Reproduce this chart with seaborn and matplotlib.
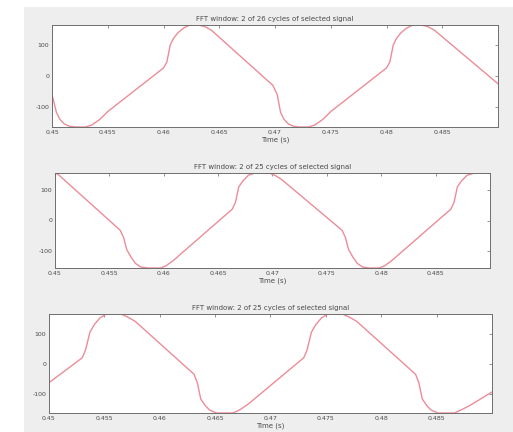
import matplotlib
matplotlib.use("Agg")
import matplotlib.pyplot as plt
from matplotlib.patches import Rectangle
import seaborn as sns
import pandas as pd

# ---- data ----
titles = [
    "FFT window: 2 of 26 cycles of selected signal",
    "FFT window: 2 of 25 cycles of selected signal",
    "FFT window: 2 of 25 cycles of selected signal",
]
xlabel = "Time (s)"
xticks = [0.45, 0.455, 0.46, 0.465, 0.47, 0.475, 0.48, 0.485]
xtick_labels = ["0.45", "0.455", "0.46", "0.465", "0.47", "0.475", "0.48", "0.485"]
yticks = [-100, 0, 100]
ytick_labels = ["-100", "0", "100"]

t1 = [0.4500, 0.4504, 0.4507, 0.4511, 0.4516, 0.4522, 0.4530, 0.4536, 0.4543, 0.4550,
      0.4600, 0.4603, 0.4606, 0.4609, 0.4613, 0.4618, 0.4623, 0.4631, 0.4637, 0.4643,
      0.4698, 0.4702, 0.4705, 0.4708, 0.4712, 0.4717, 0.4722, 0.4730, 0.4736, 0.4743,
      0.4750, 0.4800, 0.4803, 0.4806, 0.4809, 0.4813, 0.4818, 0.4823, 0.4831, 0.4837,
      0.4843, 0.4900]
v1 = [-60, -118, -140, -155, -163, -165, -165, -158, -140, -115,
      26, 45, 100, 122, 140, 155, 164, 165, 160, 148,
      -30, -60, -118, -140, -155, -163, -165, -165, -158, -140,
      -115, 26, 45, 100, 122, 140, 155, 164, 165, 160,
      148, -25]

t2 = [0.4500, 0.4503, 0.4560, 0.4563, 0.4566, 0.4570, 0.4574, 0.4579, 0.4586, 0.4597,
      0.4602, 0.4609, 0.4617, 0.4663, 0.4666, 0.4669, 0.4673, 0.4678, 0.4684, 0.4697,
      0.4702, 0.4708, 0.4764, 0.4767, 0.4770, 0.4774, 0.4778, 0.4783, 0.4789, 0.4798,
      0.4803, 0.4810, 0.4818, 0.4864, 0.4867, 0.4870, 0.4874, 0.4879, 0.4886, 0.4900]
v2 = [155, 150, -32, -55, -95, -120, -140, -152, -155, -155,
      -148, -130, -105, 37, 60, 110, 130, 148, 155, 155,
      148, 135, -32, -55, -95, -120, -140, -152, -155, -155,
      -148, -130, -105, 37, 60, 110, 130, 148, 155, 155]

t3 = [0.4500, 0.4530, 0.4533, 0.4537, 0.4541, 0.4546, 0.4552, 0.4565, 0.4571, 0.4578,
      0.4631, 0.4634, 0.4637, 0.4641, 0.4645, 0.4651, 0.4666, 0.4672, 0.4680, 0.4730,
      0.4733, 0.4737, 0.4741, 0.4746, 0.4752, 0.4765, 0.4771, 0.4778, 0.4831, 0.4834,
      0.4837, 0.4841, 0.4845, 0.4851, 0.4866, 0.4872, 0.4880, 0.4900]
v3 = [-64, 19, 45, 105, 130, 152, 165, 165, 155, 140,
      -36, -65, -118, -140, -155, -165, -165, -155, -135, 19,
      45, 105, 130, 152, 165, 165, 155, 140, -36, -65,
      -118, -140, -155, -165, -165, -155, -140, -95]

series = [(t1, v1), (t2, v2), (t3, v3)]
ylims = [(-165, 165), (-155, 155), (-165, 165)]

# ---- layout / style ----
sns.set_style("white")
plt.rcParams["font.family"] = ["DejaVu Sans"]

W, H = 513, 432
fig = plt.figure(figsize=(W / 100, H / 100), dpi=100, facecolor="white")
fig.patches.append(Rectangle((24 / W, 0), 1, (H - 7) / H, transform=fig.transFigure,
                             facecolor="#eeeeee", edgecolor="none", zorder=-10))

boxes = [(52, 498, 25, 127), (55, 490, 173, 268), (49, 492, 314, 413)]
line_color = "#ec8c99"
text_color = "#4a4a4a"

for i, ((l, r, tp, bt), (tt, vv)) in enumerate(zip(boxes, series)):
    ax = fig.add_axes([l / W, 1 - bt / H, (r - l) / W, (bt - tp) / H])
    ax.set_facecolor("white")
    df = pd.DataFrame({"t": tt, "v": vv})
    sns.lineplot(data=df, x="t", y="v", ax=ax, color=line_color, linewidth=1.0,
                 sort=False, estimator=None)
    ax.set_xlim(0.45, 0.49)
    ax.set_ylim(*ylims[i])
    ax.set_xticks(xticks)
    ax.set_xticklabels(xtick_labels)
    ax.set_yticks(yticks)
    ax.set_yticklabels(ytick_labels)
    ax.tick_params(direction="in", length=2.5, width=0.5, top=True, right=True,
                   labelsize=4.5, colors="#666666", labelcolor=text_color, pad=2)
    for s in ax.spines.values():
        s.set_color("#6e6e6e")
        s.set_linewidth(0.7)
    ax.set_title(titles[i], fontsize=5, color=text_color, pad=3)
    ax.set_xlabel(xlabel, fontsize=5, color=text_color, labelpad=1)
    ax.set_ylabel("")

fig.savefig("out.png", dpi=100, facecolor=fig.get_facecolor())
